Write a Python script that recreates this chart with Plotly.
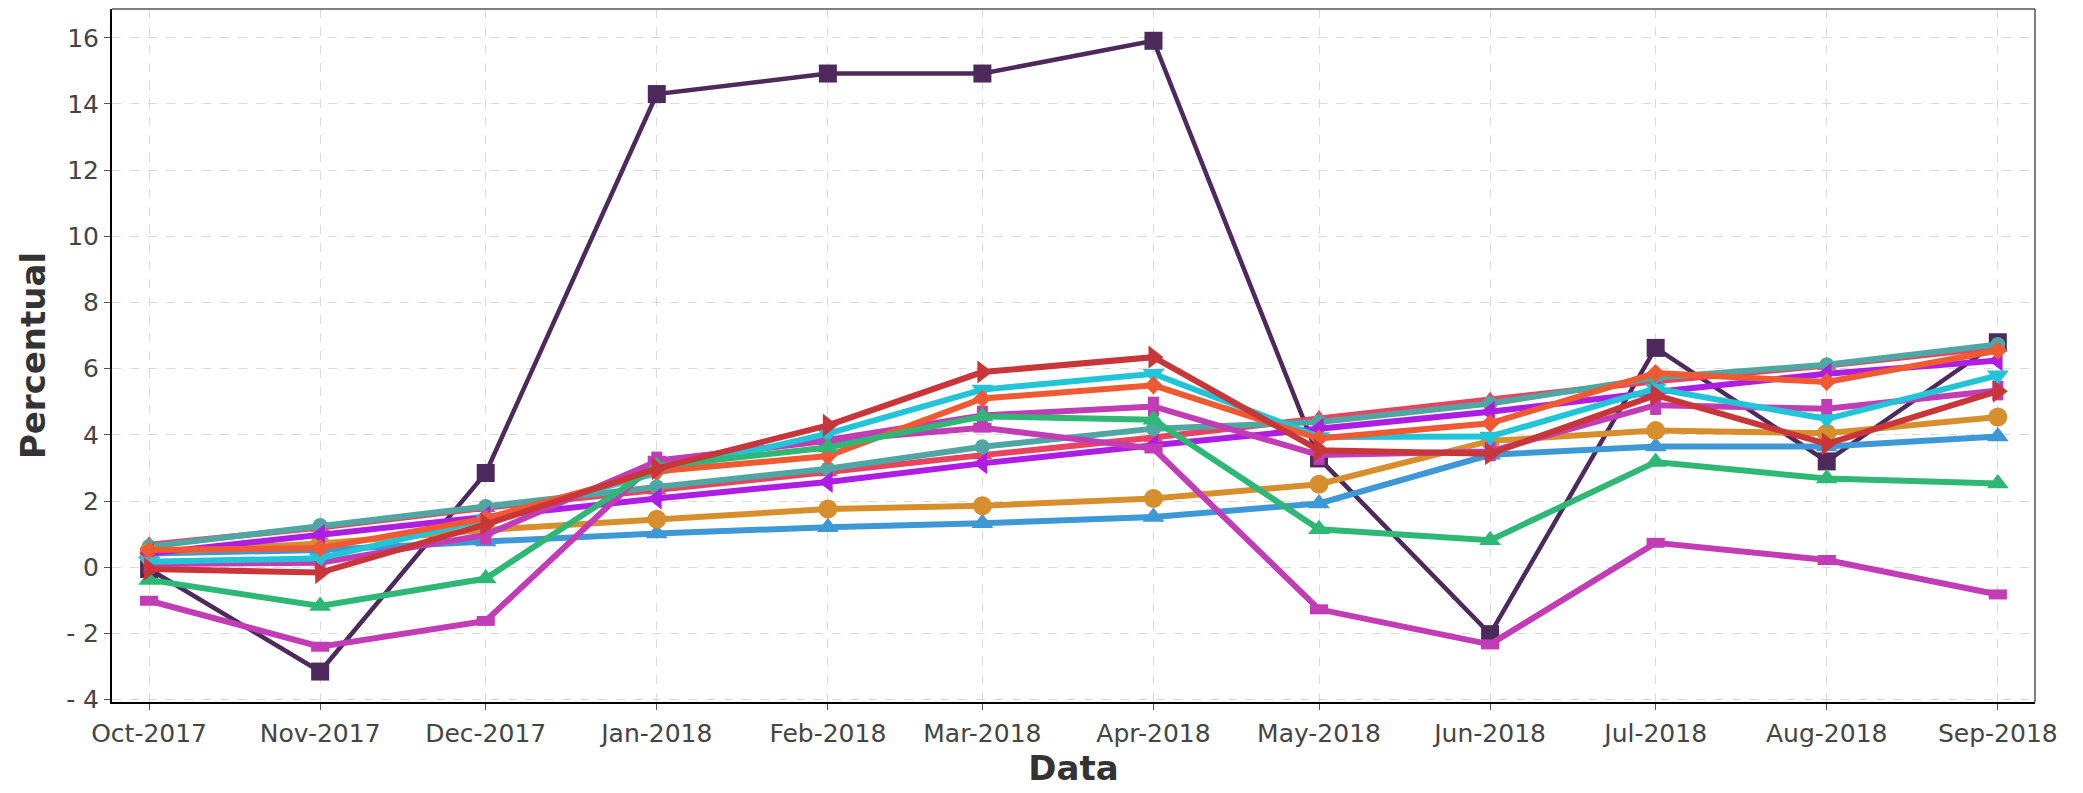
import plotly.graph_objects as go

months = ['2017-10-01', '2017-11-01', '2017-12-01', '2018-01-01', '2018-02-01', '2018-03-01',
          '2018-04-01', '2018-05-01', '2018-06-01', '2018-07-01', '2018-08-01', '2018-09-01']
month_labels = ['Oct-2017', 'Nov-2017', 'Dec-2017', 'Jan-2018', 'Feb-2018', 'Mar-2018',
                'Apr-2018', 'May-2018', 'Jun-2018', 'Jul-2018', 'Aug-2018', 'Sep-2018']
y_ticks = [-4, -2, 0, 2, 4, 6, 8, 10, 12, 14, 16]
y_tick_labels = ['- 4', '- 2', '0', '2', '4', '6', '8', '10', '12', '14', '16']

s_darkpurple = [-0.05, -3.15, 2.85, 14.3, 14.92, 14.92, 15.91, 3.29, -2.02, 6.63, 3.2, 6.8]
s_magenta_a = [-1.01, -2.4, -1.62, 3.22, 3.82, 4.22, 3.59, -1.27, -2.33, 0.74, 0.22, -0.82]
s_green = [-0.38, -1.17, -0.34, 3.05, 3.62, 4.56, 4.46, 1.15, 0.82, 3.18, 2.68, 2.53]
s_blue = [0.42, 0.52, 0.78, 1.02, 1.21, 1.33, 1.52, 1.93, 3.4, 3.65, 3.65, 3.95]
s_golden = [0.45, 0.72, 1.13, 1.45, 1.76, 1.86, 2.08, 2.51, 3.82, 4.13, 4.05, 4.54]
s_teal = [0.63, 1.26, 1.84, 2.43, 2.98, 3.64, 4.19, 4.39, 4.95, 5.73, 6.12, 6.73]
s_redpink = [0.68, 1.2, 1.8, 2.33, 2.88, 3.39, 3.92, 4.5, 5.05, 5.62, 6.1, 6.65]
s_violet = [0.42, 0.98, 1.54, 2.08, 2.58, 3.14, 3.69, 4.19, 4.7, 5.3, 5.85, 6.25]
s_magenta_b = [0.1, 0.14, 0.98, 3.2, 3.85, 4.59, 4.86, 3.39, 3.5, 4.9, 4.79, 5.34]
s_cyan = [0.17, 0.27, 1.45, 2.85, 4.04, 5.37, 5.85, 3.94, 3.95, 5.4, 4.48, 5.8]
s_orange = [0.52, 0.58, 1.48, 2.9, 3.36, 5.1, 5.5, 3.89, 4.35, 5.87, 5.6, 6.55]
s_darkred = [-0.05, -0.16, 1.3, 2.98, 4.29, 5.9, 6.35, 3.54, 3.43, 5.2, 3.73, 5.32]

# (values, color, symbol, size, line width, bar-marker thickness)
series = [
    (s_darkpurple, '#4D2A5B', 'square', 18, 4.5, None),
    (s_redpink, '#E8435F', 'triangle-up', 17, 6, None),
    (s_teal, '#4FA6A2', 'circle', 15, 6, None),
    (s_blue, '#3E98D5', 'triangle-up', 19, 6, None),
    (s_golden, '#D68F2C', 'circle', 19, 6, None),
    (s_violet, '#AE1DE3', 'triangle-left', 19, 6, None),
    (s_magenta_a, '#C23DB5', 'line-ew', 13, 6, 10),
    (s_magenta_b, '#C23DB5', 'line-ns', 14, 6, 11),
    (s_cyan, '#22C4D8', 'triangle-down', 19, 6, None),
    (s_orange, '#F05A33', 'diamond', 14, 6, None),
    (s_green, '#2EB775', 'triangle-up', 19, 6, None),
    (s_darkred, '#C9363A', 'triangle-right', 20, 6, None),
]

fig = go.Figure()
for vals, color, symbol, size, lw, bar in series:
    if bar is not None:
        marker = dict(symbol=symbol, size=size, color=color, line=dict(color=color, width=bar))
    else:
        marker = dict(symbol=symbol, size=size, color=color, line=dict(width=0))
    fig.add_trace(go.Scatter(x=months, y=vals, mode='lines+markers',
                             line=dict(color=color, width=lw), marker=marker,
                             showlegend=False))

tick_font = dict(family='DejaVu Sans', size=25, color='#444444')
title_font = dict(family='DejaVu Sans', size=34, color='#333333', weight='bold')

# page body has an 8px default margin: size/margins compensate so the plot area
# lands on the reference pixels
fig.update_layout(
    width=2075, height=785,
    margin=dict(l=104, r=48, t=1, b=91),
    paper_bgcolor='white', plot_bgcolor='white',
    xaxis=dict(
        type='date',
        range=['2017-09-24 06:43', '2018-09-07 17:45'],
        tickvals=months, ticktext=month_labels,
        tickfont=tick_font,
        showgrid=True, gridcolor='#DADADA', gridwidth=1, griddash='dash',
        zeroline=False,
        showline=True, linecolor='black', linewidth=2,
        ticks='outside', ticklen=6, tickcolor='#555555', tickwidth=1,
        ticklabelstandoff=2,
        title=dict(text='Data', font=title_font, standoff=6),
        automargin=False,
    ),
    yaxis=dict(
        range=[-4.07, 16.87],
        tickvals=y_ticks, ticktext=y_tick_labels,
        tickfont=tick_font,
        showgrid=True, gridcolor='#DADADA', gridwidth=1, griddash='dash',
        zeroline=False,
        showline=True, linecolor='black', linewidth=2,
        ticks='outside', ticklen=6, tickcolor='#555555', tickwidth=1,
        ticklabelstandoff=0,
        title=dict(text='Percentual', font=title_font, standoff=10),
        automargin=False,
    ),
    shapes=[
        dict(type='line', xref='paper', yref='paper', x0=0, x1=1, y0=1, y1=1,
             line=dict(color='#555555', width=1.5)),
        dict(type='line', xref='paper', yref='paper', x0=1, x1=1, y0=0, y1=1,
             line=dict(color='#555555', width=1.5)),
    ],
)

fig.write_html('out.html')
